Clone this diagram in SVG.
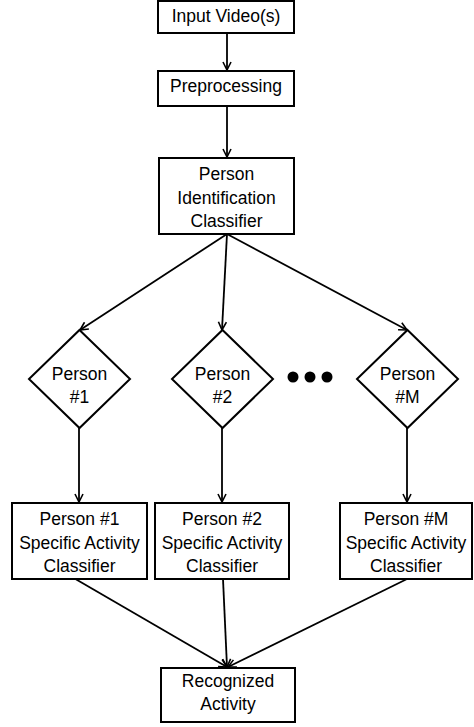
<svg xmlns="http://www.w3.org/2000/svg" width="474" height="727" viewBox="0 0 474 727">
<style>
.box{fill:#fff;stroke:#000;stroke-width:2}
.t{font-family:"Liberation Sans",Arial,sans-serif;font-size:17.5px;fill:#000;text-anchor:middle}
.c{stroke:#000;stroke-width:1.8;fill:none}
</style>
<defs>
<marker id="a" viewBox="0 0 10 10" refX="9" refY="5" markerWidth="10" markerHeight="10" markerUnits="userSpaceOnUse" orient="auto">
<path d="M1,1 L9,5 L1,9" fill="none" stroke="#000" stroke-width="1.6"/>
</marker>
</defs>
<rect width="474" height="727" fill="#fff"/>
<g id="connectors">
<line class="c" x1="227" y1="33" x2="227" y2="70" marker-end="url(#a)"/>
<line class="c" x1="227" y1="106" x2="227" y2="157" marker-end="url(#a)"/>
<line class="c" x1="227" y1="234" x2="80" y2="330" marker-end="url(#a)"/>
<line class="c" x1="227" y1="234" x2="222" y2="330" marker-end="url(#a)"/>
<line class="c" x1="227" y1="234" x2="407" y2="330" marker-end="url(#a)"/>
<line class="c" x1="79" y1="428" x2="79" y2="502" marker-end="url(#a)"/>
<line class="c" x1="222" y1="428" x2="222" y2="502" marker-end="url(#a)"/>
<line class="c" x1="407" y1="428" x2="407" y2="502" marker-end="url(#a)"/>
<line class="c" x1="72" y1="577" x2="227" y2="667" marker-end="url(#a)"/>
<line class="c" x1="223" y1="579" x2="227" y2="667" marker-end="url(#a)"/>
<line class="c" x1="407" y1="579" x2="228" y2="667" marker-end="url(#a)"/>
</g>
<g id="input">
<rect class="box" x="158" y="1" width="136" height="32"/>
<text class="t" x="226" y="22">Input Video(s)</text>
</g>
<g id="preprocessing">
<rect class="box" x="158" y="71" width="136" height="35"/>
<text class="t" x="226" y="92">Preprocessing</text>
</g>
<g id="pic">
<rect class="box" x="159" y="158" width="135" height="76"/>
<text class="t" x="226.5" y="180">Person</text>
<text class="t" x="226.5" y="204">Identification</text>
<text class="t" x="226.5" y="227">Classifier</text>
</g>
<g id="d1">
<polygon class="box" points="79.5,330 130,379 79.5,428 29,379"/>
<text class="t" x="79.5" y="380">Person</text>
<text class="t" x="79.5" y="403">#1</text>
</g>
<g id="d2">
<polygon class="box" points="222.5,330 273,379 222.5,428 172,379"/>
<text class="t" x="222.5" y="380">Person</text>
<text class="t" x="222.5" y="403">#2</text>
</g>
<g id="dots">
<circle cx="293" cy="377" r="5.5"/>
<circle cx="310" cy="377" r="5.5"/>
<circle cx="327" cy="377" r="5.5"/>
</g>
<g id="dM">
<polygon class="box" points="407.5,330 458,379 407.5,428 357,379"/>
<text class="t" x="407.5" y="380">Person</text>
<text class="t" x="407.5" y="403">#M</text>
</g>
<g id="c1">
<rect class="box" x="12" y="503" width="135" height="76"/>
<text class="t" x="79.5" y="525">Person #1</text>
<text class="t" x="79.5" y="549">Specific Activity</text>
<text class="t" x="79.5" y="572">Classifier</text>
</g>
<g id="c2">
<rect class="box" x="155" y="503" width="134" height="76"/>
<text class="t" x="222" y="525">Person #2</text>
<text class="t" x="222" y="549">Specific Activity</text>
<text class="t" x="222" y="572">Classifier</text>
</g>
<g id="cM">
<rect class="box" x="340" y="503" width="132" height="76"/>
<text class="t" x="406" y="525">Person #M</text>
<text class="t" x="406" y="549">Specific Activity</text>
<text class="t" x="406" y="572">Classifier</text>
</g>
<g id="recognized">
<rect class="box" x="161" y="668" width="134" height="54"/>
<text class="t" x="228" y="687">Recognized</text>
<text class="t" x="228" y="710">Activity</text>
</g>
</svg>
